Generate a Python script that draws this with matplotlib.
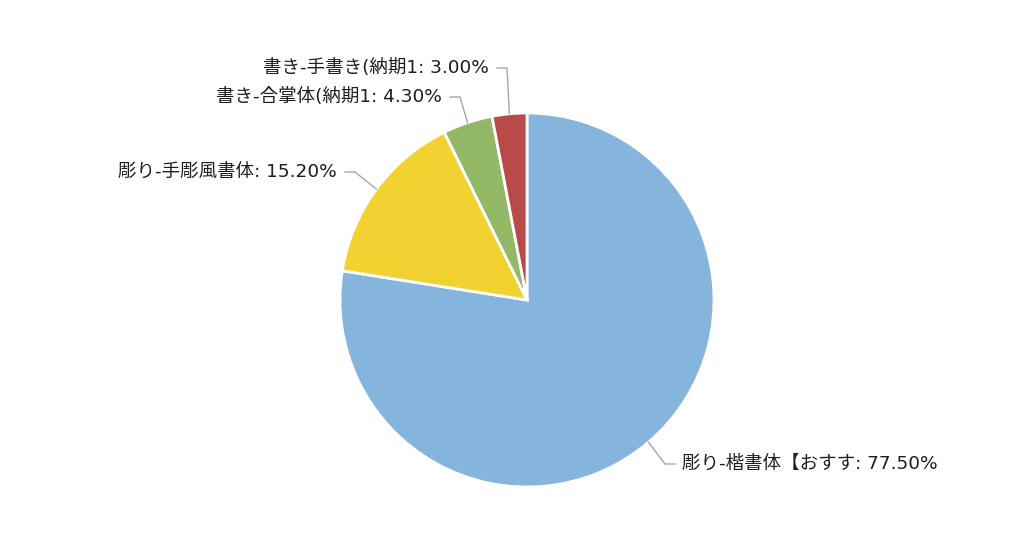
import numpy as np
import matplotlib
matplotlib.use('Agg')
import matplotlib.pyplot as plt

# Latin glyphs from DejaVu (wide, Verdana-like), CJK falls back to Noto
plt.rcParams['font.family'] = ['DejaVu Sans', 'Noto Sans CJK JP']

# data (clockwise from 12 o'clock)
labels = ['彫り-楷書体【おすす', '彫り-手彫風書体', '書き-合掌体(納期1', '書き-手書き(納期1']
shares = [77.5, 15.2, 4.3, 3.0]
colors = ['#85B5DC', '#F2D230', '#93B866', '#B84A4A']

W, H = 1024, 545
CX, CY, R = 527, H - 300, 187  # pie centre / radius in pixels (y up)

# label layout: (text x, text y in pixel-from-top, side)
label_pos = [
    (682, 464, 'left'),
    (337, 172, 'right'),
    (442, 97, 'right'),
    (489, 68, 'right'),
]

fig = plt.figure(figsize=(W / 100, H / 100), dpi=100)
ax = fig.add_axes([0, 0, 1, 1])

wedges, _ = ax.pie(shares, colors=colors, startangle=90, counterclock=False,
                   center=(CX, CY), radius=R, frame=True,
                   wedgeprops=dict(edgecolor='white', linewidth=2))
ax.set_xlim(0, W)
ax.set_ylim(0, H)
ax.set_aspect('equal')
ax.axis('off')

for w, lab, val, (tx, ty, ha) in zip(wedges, labels, shares, label_pos):
    mid = np.deg2rad((w.theta1 + w.theta2) / 2)
    px = CX + R * np.cos(mid)
    py = CY + R * np.sin(mid)
    y = H - ty
    if ha == 'right':
        x0 = tx + 8
        x1 = x0 + 10
    else:
        x0 = tx - 7
        x1 = x0 - 10
    ax.plot([px, x1, x0], [py, y, y], color='#A6A6A6', lw=1, zorder=1)
    ax.text(tx, y, f'{lab}: {val:.2f}%', ha=ha, va='center',
            fontsize=13.3, color='#1E1E1E')

fig.savefig('out.png', dpi=100, facecolor='white')
